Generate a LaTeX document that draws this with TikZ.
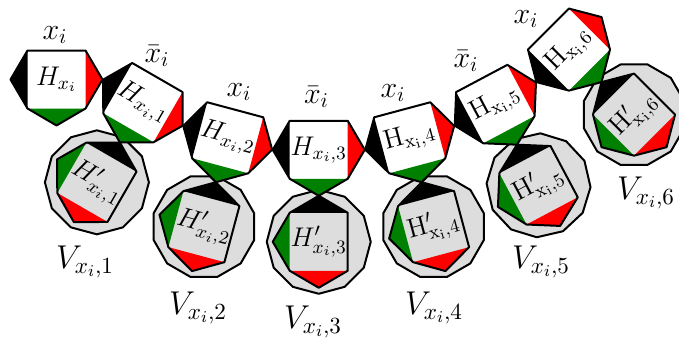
\documentclass[tikz,border=0pt]{standalone}
\usepackage{fix-cm}
\usepackage{xcolor}
\usetikzlibrary{calc}
\definecolor{tilered}{RGB}{255,0,0}
\definecolor{tilegreen}{RGB}{0,128,0}
\definecolor{tilegray}{RGB}{221,221,221}

\tikzset{
  outline/.style={line width=1pt, line join=round},
  hlab/.style={font=\fontsize{13.5}{16}\selectfont},
  xlab/.style={font=\fontsize{15}{17}\selectfont},
  vlab/.style={font=\fontsize{16.5}{19}\selectfont}
}

% square with black, red and green triangles (left, right, bottom)
\newcommand{\htile}[5]{%
  \begin{scope}[shift={(#1)}, rotate=#2]
    \fill[#3] (-29,-29) rectangle (29,29);
    \fill[black] (-29,29) -- (-46,0) -- (-29,-29) -- cycle;
    \fill[tilered] (29,29) -- (46,0) -- (29,-29) -- cycle;
    \fill[tilegreen] (-29,-29) -- (0,-46) -- (29,-29) -- cycle;
    \draw[outline] (-29,29) -- (29,29) -- (46,0) -- (29,-29) -- (0,-46)
      -- (-29,-29) -- (-46,0) -- cycle;
  \end{scope}
  \node[hlab, rotate=#5] at (#1) {#4};}

% gray 12-gon with the primed tile in it
\newcommand{\vtile}[3]{%
  \begin{scope}[shift={(#1)}, rotate=#2]
    \draw[outline, fill=tilegray] (90:52) \foreach \a in {120,150,...,420} { -- (\a:52) } -- cycle;
  \end{scope}
  \htile{#1}{#2-90}{tilegray}{#3}{#2}}

\begin{document}
\begin{tikzpicture}[x=0.5pt, y=0.5pt]
  \useasboundingbox (0,0) rectangle (679,339);

  % centres of the chain
  \coordinate (c0) at (56.5,259.5);
  \coordinate (c1) at ($(c0)+(0:46.3)+(-30:46.3)$);
  \coordinate (c2) at ($(c1)+(-30:46.3)+(-15:46.3)$);
  \coordinate (c3) at ($(c2)+(-15:46.3)+(0:46.3)$);
  \coordinate (c4) at ($(c3)+(0:46.3)+(15:46.3)$);
  \coordinate (c5) at ($(c4)+(15:46.3)+(28:46.3)$);
  \coordinate (c6) at ($(c5)+(28:46.3)+(45:46.3)$);

  % centres of the primed tiles
  \coordinate (d1) at ($(c1)+(-120:92)$);
  \coordinate (d2) at ($(c2)+(-105:92)$);
  \coordinate (d3) at ($(c3)+(-90:92)$);
  \coordinate (d4) at ($(c4)+(-75:92)$);
  \coordinate (d5) at ($(c5)+(-62:92)$);
  \coordinate (d6) at ($(c6)+(-45:92)$);

  \vtile{d1}{-30}{$H'_{x_i,1}$}
  \vtile{d2}{-15}{$H'_{x_i,2}$}
  \vtile{d3}{0}{$H'_{x_i,3}$}
  \vtile{d4}{15}{$\mathrm{H}'_{\mathrm{x}_{\mathrm{i}},4}$}
  \vtile{d5}{28}{$\mathrm{H}'_{\mathrm{x}_{\mathrm{i}},5}$}
  \vtile{d6}{45}{$\mathrm{H}'_{\mathrm{x}_{\mathrm{i}},6}$}

  \htile{c0}{0}{white}{$H_{x_i}$}{0}
  \htile{c1}{-30}{white}{$H_{x_i,1}$}{-30}
  \htile{c2}{-15}{white}{$H_{x_i,2}$}{-15}
  \htile{c3}{0}{white}{$H_{x_i,3}$}{0}
  \htile{c4}{15}{white}{$\mathrm{H}_{\mathrm{x}_{\mathrm{i}},4}$}{15}
  \htile{c5}{28}{white}{$\mathrm{H}_{\mathrm{x}_{\mathrm{i}},5}$}{28}
  \htile{c6}{45}{white}{$\mathrm{H}_{\mathrm{x}_{\mathrm{i}},6}$}{45}

  \node[xlab] (x0) at (55,304) {$x_i$};
  \node[xlab] (x1) at (157,283) {$\bar{x}_i$};
  \node[xlab] (x2) at (239,247) {$x_i$};
  \node[xlab] (x3) at (316.5,242) {$\bar{x}_i$};
  \node[xlab] (x4) at (393,246) {$x_i$};
  \node[xlab] (x5) at (466,278) {$\bar{x}_i$};
  \node[xlab] (x6) at (526,320) {$x_i$};

  \node[vlab] (v1) at (85,77) {$V_{x_i,1}$};
  \node[vlab] (v2) at (198,31) {$V_{x_i,2}$};
  \node[vlab] (v3) at (313,17) {$V_{x_i,3}$};
  \node[vlab] (v4) at (434,31) {$V_{x_i,4}$};
  \node[vlab] (v5) at (541,77) {$V_{x_i,5}$};
  \node[vlab] (v6) at (646,146) {$V_{x_i,6}$};
\end{tikzpicture}
\end{document}
